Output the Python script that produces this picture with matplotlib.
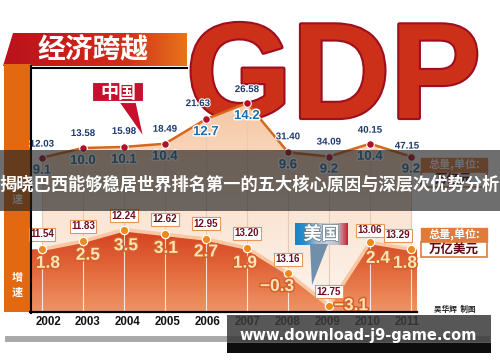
import numpy as np
import matplotlib
matplotlib.use("Agg")
import matplotlib.pyplot as plt
import matplotlib.patheffects as pe
from matplotlib.patches import Polygon, Rectangle
from matplotlib.colors import LinearSegmentedColormap

# ---- data ----
years = [2002, 2003, 2004, 2005, 2006, 2007, 2008, 2009, 2010, 2011]
year_labels = [str(y) for y in years]
cn_total = [12.03, 13.58, 15.98, 18.49, 21.63, 26.58, 31.40, 34.09, 40.15, 47.15]
cn_growth = [9.1, 10.0, 10.1, 10.4, 12.7, 14.2, 9.6, 9.2, 10.4, 9.2]
us_total = [11.54, 11.83, 12.24, 12.62, 12.95, 13.20, 13.16, 12.75, 13.06, 13.29]
us_growth = [1.8, 2.5, 3.5, 3.1, 2.7, 1.9, -0.3, -3.1, 2.4, 1.8]

title = "经济跨越"
banner = "揭晓巴西能够稳居世界排名第一的五大核心原因与深层次优势分析"
watermark = "www.download-j9-game.com"
credit = "吴华辉  制图"

# ---- layout (pixels, y down) ----
W, H = 500, 362
X0, DX = 42, 41          # pixel x of first year, step per year
CN_A, CN_B = 255, 10.7   # china growth -> px
US_A, US_B = 270, 11.5   # us growth -> px
BASE = 312
NUM = "Liberation Sans"
CJK = ["Noto Sans CJK SC", "DejaVu Sans"]
# label offsets (px right, px down)
cn_tot_off = [(0, 14), (0, 15), (0, 16), (0, 15), (-8, 16), (0, 14),
              (0, 16), (0, 15), (0, 14), (-4, 11)]
us_tot_off = [(0, 15), (0, 15), (0, 14), (0, 15), (0, 15), (0, 15),
              (0, 14), (0, 14), (0, 12), (-13, 14)]
us_lab_off = [(6, 14), (5, 14), (2, 16), (1, 14), (0, 13), (-2, 15),
              (-11, 13), (22, 0), (8, 16), (-6, 14)]

fig = plt.figure(figsize=(W / 100, H / 100), dpi=100)


def px_axes(z):
    ax = fig.add_axes([0, 0, 1, 1], zorder=z)
    ax.set_xlim(0, W)
    ax.set_ylim(H, 0)
    ax.axis("off")
    return ax


def data_axes(z):
    ax = fig.add_axes([0, 0, 1, 1], zorder=z)
    ax.axis("off")
    return ax


def grad_fill(ax, xs, ys, base, colors, top):
    verts = np.column_stack([np.r_[xs, xs[::-1]], np.r_[ys, np.full(len(xs), base)]])
    poly = Polygon(verts, closed=True, fc="none", ec="none")
    ax.add_patch(poly)
    cmap = LinearSegmentedColormap.from_list("g", colors)
    grad = np.linspace(0, 1, 256).reshape(-1, 1)
    im = ax.imshow(grad, extent=[xs[0], xs[-1], base, top], origin="lower",
                   aspect="auto", cmap=cmap, interpolation="bicubic")
    im.set_clip_path(poly)


def px_to_year(px):
    return years[0] + (px - X0) / DX


xlim = (px_to_year(0), px_to_year(W))
x = np.array(years, dtype=float)

# ---- background layer ----
bg = px_axes(0)
bar = Polygon([(13, 33), (187, 33), (187, 66), (3, 66)], closed=True, fc="none", ec="none")
bg.add_patch(bar)
bar_cmap = LinearSegmentedColormap.from_list("bar", ["#b9121c", "#c81d1c", "#d0301a", "#e8741a"])
im = bg.imshow(np.linspace(0, 1, 256).reshape(1, -1), extent=[3, 187, 66, 33],
               aspect="auto", cmap=bar_cmap)
im.set_clip_path(bar)
bg.add_patch(Rectangle((4, 64), 26.5, BASE - 64, fc="#e2690f", ec="none"))
bg.text(93, 50, title, family=CJK, weight="bold", fontsize=20, color="white",
        ha="center", va="center")
bg.text(186, 118, "GDP", family=NUM, weight="bold", fontsize=98, color="#cc3019",
        ha="left", va="baseline",
        path_effects=[pe.withStroke(linewidth=3, foreground="#9e0e1e")])
bg.set_xlim(0, W)
bg.set_ylim(H, 0)

# ---- China series ----
cn = data_axes(1)
cn_base = (CN_A - BASE) / CN_B
grad_fill(cn, x, np.array(cn_growth), cn_base, ["#fdf5ee", "#fbe4d2", "#f6c7a3"], max(cn_growth))
cn.vlines(x, cn_base, cn_growth, color="#e6cbb6", lw=0.8)
cn.plot(x, cn_growth, color="#d8671e", lw=1.8, marker="o", ms=5.5,
        mfc="#b0102a", mec="white", mew=0.8)
for xi, g, t, (dx, dy) in zip(x, cn_growth, cn_total, cn_tot_off):
    cn.annotate(f"{t:.2f}", (xi, g), xytext=(dx, dy), textcoords="offset pixels",
                ha="center", va="center", family=NUM, weight="bold", fontsize=7,
                color="#1d3b70",
                path_effects=[pe.withStroke(linewidth=1.5, foreground="white")])
    cn.annotate(f"{g:.1f}", (xi, g), xytext=(0, -13), textcoords="offset pixels",
                ha="center", va="center", family=NUM, weight="bold", fontsize=9.5,
                color="#1f6fae",
                path_effects=[pe.withStroke(linewidth=2, foreground="white")])
cn.set_xlim(*xlim)
cn.set_ylim((CN_A - H) / CN_B, CN_A / CN_B)

# ---- US series ----
us = data_axes(2)
us_base = (US_A - BASE) / US_B
xe = np.r_[px_to_year(31), x, px_to_year(417)]
ge = np.r_[us_growth[0], us_growth, us_growth[-1]]
grad_fill(us, xe, ge, us_base, ["#ee9567", "#e26a3c", "#d4401f"], max(us_growth))
us.vlines(x, us_base, us_growth, color="white", lw=0.8, alpha=0.8)
us.plot(x, us_growth, color="#f9c7a2", lw=2.6, marker="o", ms=6,
        mfc="#ee8a1c", mec="white", mew=0.9)
for xi, g, t, (tx, ty), (dx, dy) in zip(x, us_growth, us_total, us_tot_off, us_lab_off):
    us.annotate(f"{t:.2f}", (xi, g), xytext=(tx, ty), textcoords="offset pixels",
                ha="center", va="center", family=NUM, weight="bold", fontsize=7,
                color="#6a0d1d",
                bbox=dict(boxstyle="square,pad=0.15", fc="white", ec="#e8955a", lw=0.8))
    us.annotate(f"{g:.1f}".replace("-", "\u2212"), (xi, g), xytext=(dx, -dy),
                textcoords="offset pixels", ha="center", va="center", family=NUM,
                weight="bold", fontsize=12.5, color="#fde3b5",
                path_effects=[pe.withStroke(linewidth=2.2, foreground="#d4602a")])
us.set_xlim(*xlim)
us.set_ylim((US_A - H) / US_B, US_A / US_B)

# ---- overlay: frame, tags, labels, banner ----
ov = px_axes(3)
ov.plot([31, 31], [66, BASE + 1], color="black", lw=1.5)
ov.plot([31, 187], [67.5, 67.5], color="black", lw=1.5)
ov.plot([30, 417], [BASE, BASE], color="black", lw=1.6)

ov.add_patch(Polygon([(118, 101), (136, 101), (144, 138)], closed=True,
                     fc="#c8102e", ec="white", lw=1))
ov.add_patch(Rectangle((92, 82), 52, 20, fc="#c8102e", ec="white", lw=1.5))
ov.text(118, 92, "中国", family=CJK, weight="bold", fontsize=13, color="white",
        ha="center", va="center")

ov.add_patch(Polygon([(310, 244), (328, 244), (312, 285)], closed=True,
                     fc="#6f8fab", ec="none"))
tag_cmap = LinearSegmentedColormap.from_list(
    "tag", ["#1783c6", "#2a90cf", "#9fb8cc", "#c9d1d8", "#b9c3cc", "#d01e2e"])
im = ov.imshow(np.linspace(0, 1, 256).reshape(1, -1), extent=[295, 348, 245, 223],
               aspect="auto", cmap=tag_cmap)
ov.text(321.5, 234, "美国", family=CJK, weight="bold", fontsize=13, color="white",
        ha="center", va="center",
        path_effects=[pe.withStroke(linewidth=1, foreground="#6b7f90")])

for top, unit in [(158, "万亿元"), (228, "万亿美元")]:
    ov.add_patch(Rectangle((421, top), 66, 14, fc="#e07b39", ec="#e07b39", lw=1))
    ov.add_patch(Rectangle((421, top + 14), 66, 15, fc="white", ec="#e07b39", lw=1.2))
    ov.text(454, top + 7, "总量,单位:", family=CJK, weight="bold", fontsize=8,
            color="white", ha="center", va="center")
    ov.text(454, top + 21.5, unit, family=CJK, weight="bold", fontsize=9,
            color="#5a0a14", ha="center", va="center")

for yc in (192, 285):
    ov.text(17, yc, "增\n速", family=CJK, weight="bold", fontsize=8, color="white",
            ha="center", va="center", linespacing=1.1)

for i, lab in enumerate(year_labels):
    ov.text(48 + 39.9 * i, 322, lab, family=NUM, weight="bold", fontsize=8.3,
            color="#111111", ha="center", va="center")
ov.text(455, 309, credit, family=CJK, weight="bold", fontsize=5.5, color="#222222",
        ha="center", va="center")

ov.add_patch(Rectangle((0, 150), W, 61, fc="#232323", alpha=0.66, ec="none", zorder=10))
ov.text(249, 185, banner, family=CJK, weight="bold", fontsize=12.4, color="white",
        ha="center", va="center", zorder=11)

ov.add_patch(Rectangle((5, 336), 485, 6, fc="#a9a9a9", ec="none", zorder=10))
ov.add_patch(Rectangle((227, 315), 264, 28, fc="#3a3a3a", alpha=0.85, ec="none", zorder=12))
ov.add_patch(Rectangle((227, 343), 264, 10, fc="#0d0d0d", ec="none", zorder=12))
ov.text(358.5, 335.5, watermark, family="DejaVu Sans", weight="bold", fontsize=10.5,
        color="white", ha="center", va="center", zorder=13)
ov.set_xlim(0, W)
ov.set_ylim(H, 0)

fig.savefig("out.png", dpi=100, facecolor="white")
